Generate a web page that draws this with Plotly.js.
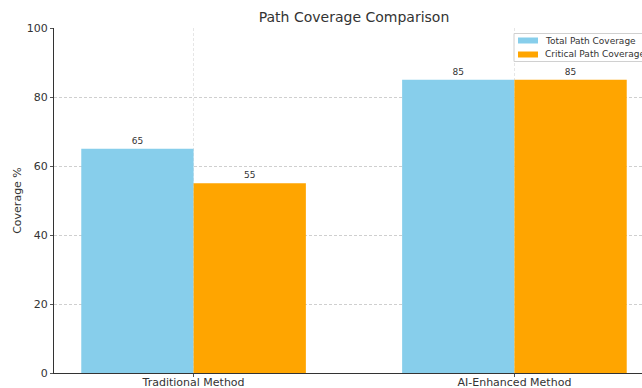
<!DOCTYPE html>
<html>
<head>
<meta charset="utf-8">
<script src="https://cdn.plot.ly/plotly-3.0.1.min.js"></script>
<style>
html,body{margin:0;padding:0;overflow:hidden;background:#fff;width:642px;height:388px;}
#chart{width:700px;height:388px;}
</style>
</head>
<body>
<div id="chart"></div>
<script>
const categories = ["Traditional Method", "AI-Enhanced Method"];
const totalPathCoverage = [65, 85];
const criticalPathCoverage = [55, 85];
const seriesNames = ["Total Path Coverage", "Critical Path Coverage"];
const seriesColors = ["#87CEEB", "#FFA500"];

const font = "DejaVu Sans, sans-serif";
const W = 700, H = 388;
const M = {l: 54, r: 46, t: 28, b: 15};
const pw = W - M.l - M.r, ph = H - M.t - M.b;
const px = x => (x - M.l) / pw;           // pixel -> paper x
const py = y => (H - M.b - y) / ph;       // pixel -> paper y

const traces = [
  {type: "bar", x: categories, y: totalPathCoverage, name: seriesNames[0],
   marker: {color: seriesColors[0]}, text: totalPathCoverage.map(String), textposition: "outside",
   textfont: {size: 9, color: "#333", family: font}, cliponaxis: false},
  {type: "bar", x: categories, y: criticalPathCoverage, name: seriesNames[1],
   marker: {color: seriesColors[1]}, text: criticalPathCoverage.map(String), textposition: "outside",
   textfont: {size: 9, color: "#333", family: font}, cliponaxis: false}
];

// Legend box (drawn like the reference's compact legend)
const shapes = [
  {type: "rect", xref: "paper", yref: "paper", x0: px(514), x1: px(650), y0: py(61.5), y1: py(33.5),
   line: {color: "#d0d0d0", width: 1}, fillcolor: "rgba(255,255,255,0.8)", layer: "above"}
];
const annotations = [];
const rowCenters = [40.5, 54.5];
seriesNames.forEach((n, i) => {
  const c = rowCenters[i];
  shapes.push({type: "rect", xref: "paper", yref: "paper", x0: px(518), x1: px(538),
               y0: py(c + 3), y1: py(c - 3), line: {width: 0}, fillcolor: seriesColors[i], layer: "above"});
  annotations.push({xref: "paper", yref: "paper", x: px(543), y: py(c), xanchor: "left", yanchor: "middle",
                    text: n, showarrow: false, font: {size: 9, color: "#333", family: font}});
});

const layout = {
  width: W, height: H,
  margin: M,
  paper_bgcolor: "#fff", plot_bgcolor: "#fff",
  font: {family: font, color: "#333"},
  title: {text: "Path Coverage Comparison", x: 0.5, xref: "paper", y: 1 - 17 / H, yref: "container",
          yanchor: "middle", font: {size: 14, color: "#333", family: font}},
  barmode: "group", bargap: 0.3, bargroupgap: 0,
  showlegend: false,
  shapes: shapes,
  annotations: annotations,
  xaxis: {type: "category", range: [-0.435, 1.435], showline: true, linecolor: "#333", linewidth: 1,
          ticks: "outside", ticklen: 3, tickcolor: "#555", ticklabelstandoff: -4,
          tickfont: {size: 11, color: "#333", family: font},
          showgrid: true, gridcolor: "#e6e6e6", griddash: "3px,2px", gridwidth: 1, zeroline: false,
          automargin: false},
  yaxis: {range: [0, 100], dtick: 20, showline: true, linecolor: "#333", linewidth: 1,
          ticks: "outside", ticklen: 3, tickcolor: "#555", tickfont: {size: 11, color: "#333", family: font},
          showgrid: true, gridcolor: "#cfcfcf", griddash: "3px,2px", gridwidth: 1, zeroline: false,
          title: {text: "Coverage %", font: {size: 11, color: "#333", family: font}, standoff: 2},
          automargin: false}
};

Plotly.newPlot("chart", traces, layout, {displayModeBar: false, staticPlot: true});
</script>
</body>
</html>
